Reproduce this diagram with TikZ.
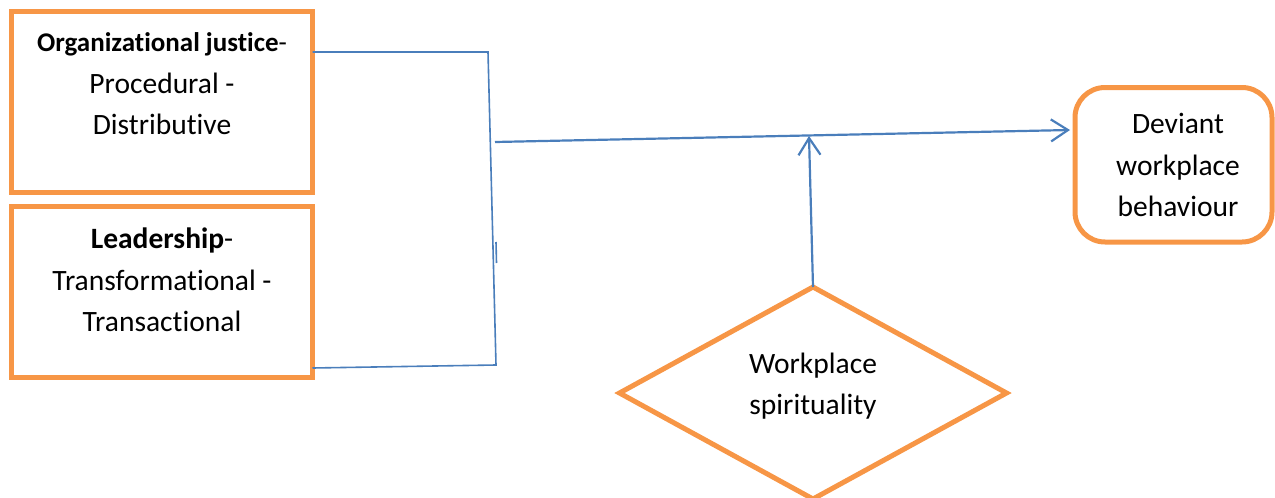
\documentclass[tikz,border=0pt]{standalone}
\usepackage{fontspec}
\setmainfont[Ligatures=NoCommon]{Carlito}
\usetikzlibrary{arrows.meta,shapes.geometric,calc}
\definecolor{orng}{HTML}{F79646}
\definecolor{blu}{HTML}{4A7EBB}
\begin{document}
\begin{tikzpicture}[x=1pt,y=-1pt,
  box/.style={draw=orng,line width=5pt,minimum width=301.5pt,inner sep=0pt,outer sep=0pt},
  txt/.style={font=\fontsize{29.5}{41.5}\selectfont,align=center,inner sep=0pt},
  conn/.style={draw=blu,line width=1.6pt},
  arr/.style={draw=blu,line width=2.2pt,-{Straight Barb[length=17pt,width=22pt]}}
]
\useasboundingbox (0,0) rectangle (1275,498);
\node[box,minimum height=180.5pt] (oj) at (161.75,101.75) {};
\node[box,minimum height=171pt] (ld) at (161.75,292) {};
\node[draw=orng,line width=5pt,rounded corners=30pt,minimum width=197pt,minimum height=154.5pt,inner sep=0pt,outer sep=0pt] (dv) at (1173.5,164.75) {};
\node[draw=orng,line width=5pt,shape=diamond,minimum width=387pt,minimum height=212pt,inner sep=0pt,outer sep=0pt] (ws) at (813,393) {};

\node[txt] (ojt) at (162,84) {{\fontsize{27}{41.5}\selectfont\textbf{Organizational justice}-}\\Procedural -\\Distributive};
\node[txt] (ldt) at (162,280) {\textbf{Leadership}-\\Transformational -\\Transactional};
\node[txt] (dvt) at (1178,165) {Deviant\\workplace\\behaviour};
\node[txt] (wst) at (813,386) {Workplace\\spirituality};

\coordinate (bt) at (488,52);
\coordinate (bb) at (496,365);
\coordinate (tk1) at (496,242);
\coordinate (tk2) at (496.5,263);
\coordinate (hs) at (495,142);
\coordinate (vt) at (809,136);

\draw[conn] ([yshift=-40.5pt]oj.north east) -- (bt) -- (bb) -- ([yshift=9.5pt]ld.south east);
\draw[conn] (tk1) -- (tk2);
\draw[arr] (hs) -- ([xshift=-5pt,yshift=34.75pt]dv.west);
\draw[arr] (ws.north) -- (vt);
\end{tikzpicture}
\end{document}
